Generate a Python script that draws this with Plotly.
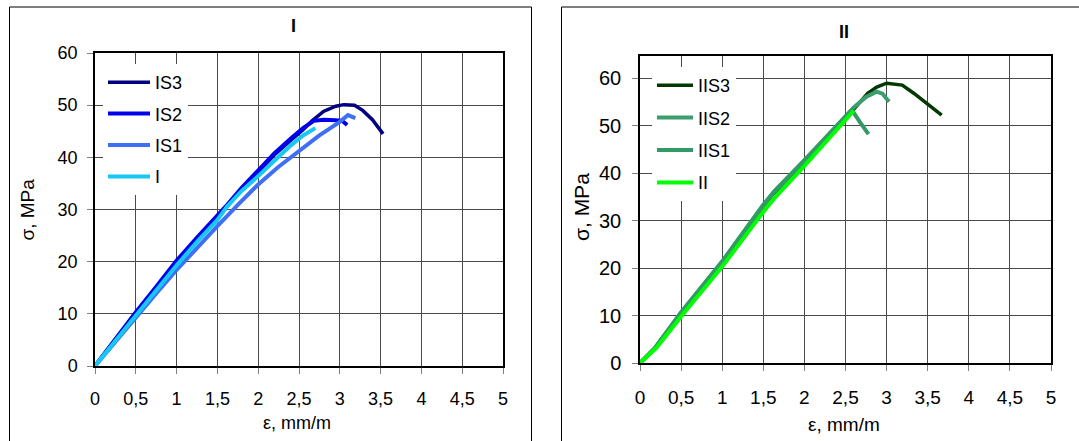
import plotly.graph_objects as go

# ---------------- data ----------------
x_ticks = [0, 0.5, 1, 1.5, 2, 2.5, 3, 3.5, 4, 4.5, 5]
x_ticktext = ["0", "0,5", "1", "1,5", "2", "2,5", "3", "3,5", "4", "4,5", "5"]
y_ticks = [0, 10, 20, 30, 40, 50, 60]
y_ticktext = ["0", "10", "20", "30", "40", "50", "60"]

# Panel I
IS3_eps = [0, 0.25, 0.5, 0.75, 1.0, 1.25, 1.5, 1.62, 1.8, 2.0, 2.2, 2.4, 2.55, 2.66, 2.8, 2.95, 3.05, 3.18, 3.28, 3.4, 3.53]
IS3_sig = [0, 5.2, 10.2, 15.0, 19.9, 24.4, 28.6, 30.6, 33.9, 37.2, 40.5, 43.3, 45.3, 47.0, 48.8, 49.8, 50.1, 50.0, 49.0, 47.2, 44.5]
IS2_eps = [0, 0.25, 0.5, 0.75, 1.0, 1.25, 1.5, 1.62, 1.8, 2.0, 2.2, 2.4, 2.55, 2.68, 2.8, 2.95, 3.03, 3.09]
IS2_sig = [0, 5.3, 10.3, 15.2, 20.2, 24.6, 28.8, 30.9, 34.2, 37.5, 40.8, 43.6, 45.6, 47.0, 47.2, 47.1, 47.0, 46.2]
IS1_eps = [0, 0.25, 0.5, 0.75, 1.0, 1.25, 1.5, 1.75, 2.0, 2.25, 2.5, 2.75, 3.0, 3.1, 3.19]
IS1_sig = [0, 4.7, 9.3, 13.9, 18.4, 22.7, 26.8, 30.9, 34.8, 38.2, 41.3, 44.2, 46.8, 48.1, 47.5]
I_eps = [0, 0.25, 0.5, 0.75, 1.0, 1.25, 1.5, 1.62, 1.8, 2.0, 2.2, 2.4, 2.55, 2.7]
I_sig = [0, 4.9, 9.8, 14.6, 19.3, 23.8, 28.0, 30.6, 33.6, 36.4, 39.4, 42.3, 44.2, 45.6]

# Panel II
IIS3_eps = [0, 0.18, 0.5, 1.0, 1.5, 1.63, 2.0, 2.5, 2.6, 2.77, 2.88, 3.0, 3.19, 3.33, 3.5, 3.67]
IIS3_sig = [0, 3.1, 10.6, 21.2, 33.0, 35.8, 42.4, 51.6, 53.4, 56.8, 58.1, 58.9, 58.5, 56.8, 54.6, 52.2]
IIS2_eps = [0, 0.18, 0.5, 1.0, 1.5, 1.63, 2.0, 2.5, 2.6, 2.75, 2.88, 2.95, 3.03]
IIS2_sig = [0, 3.1, 10.7, 21.4, 33.3, 36.1, 42.7, 52.0, 53.8, 56.0, 57.1, 56.7, 55.0]
IIS1_eps = [0, 0.18, 0.5, 1.0, 1.5, 1.63, 2.0, 2.5, 2.58, 2.68, 2.78]
IIS1_sig = [0, 3.1, 10.6, 21.3, 33.2, 36.0, 42.6, 51.9, 53.2, 50.6, 48.2]
II_eps = [0, 0.2, 0.5, 1.0, 1.5, 1.63, 2.0, 2.5, 2.6]
II_sig = [0, 3.2, 9.8, 20.3, 31.8, 34.6, 41.5, 51.2, 53.1]

left_series = [("IS3", IS3_eps, IS3_sig, "#000080", 3.5),
               ("IS2", IS2_eps, IS2_sig, "#0000EE", 4),
               ("IS1", IS1_eps, IS1_sig, "#3F6FF5", 4),
               ("I", I_eps, I_sig, "#17C8F2", 4)]
right_series = [("IIS3", IIS3_eps, IIS3_sig, "#033803", 3.5),
                ("IIS2", IIS2_eps, IIS2_sig, "#3C9E6C", 4),
                ("IIS1", IIS1_eps, IIS1_sig, "#339966", 4),
                ("II", II_eps, II_sig, "#00FF00", 4)]

# ---------------- figure ----------------
W, H = 1079, 441
FONT = "Arial, Liberation Sans, sans-serif"


def fx(p):
    return p / W


def fy(p):
    return 1 - p / H


fig = go.Figure()
for name, xs, ys, col, w in left_series:
    fig.add_trace(go.Scatter(x=xs, y=ys, name=name, mode="lines", line=dict(color=col, width=w),
                             xaxis="x", yaxis="y", legend="legend", legendgroup=name))
for name, xs, ys, col, w in right_series:
    fig.add_trace(go.Scatter(x=xs, y=ys, name=name, mode="lines", line=dict(color=col, width=w),
                             xaxis="x2", yaxis="y2", legend="legend2", legendgroup=name))

grid = "#4a4a4a"
common_x = dict(range=[0, 5], tickvals=x_ticks, ticktext=x_ticktext, showgrid=True, gridcolor=grid,
                gridwidth=1, zeroline=False, showline=True, linecolor="black", linewidth=1.5, mirror=True,
                ticks="outside", ticklen=6, tickcolor="#808080", tickwidth=1,
                color="black", automargin=False)
common_y = dict(tickvals=y_ticks, ticktext=y_ticktext, showgrid=True, gridcolor=grid, gridwidth=1,
                zeroline=False, showline=True, linecolor="black", linewidth=1.5, mirror=True,
                ticks="outside", ticklen=6, tickcolor="#808080", tickwidth=1, color="black",
                automargin=False)

fig.update_layout(
    template="none",
    width=W, height=H, margin=dict(l=0, r=0, t=0, b=0, pad=0, autoexpand=False),
    paper_bgcolor="white", plot_bgcolor="white",
    font=dict(family=FONT, color="black"),
    xaxis=dict(common_x, domain=[fx(95), fx(503)], anchor="y", tickfont=dict(size=18),
               ticklabelstandoff=10),
    yaxis=dict(common_y, domain=[fy(366), fy(53)], range=[0, 60], anchor="x", tickfont=dict(size=18),
               ticklabelstandoff=6),
    xaxis2=dict(common_x, domain=[fx(640), fx(1051)], anchor="y2", tickfont=dict(size=19),
                ticklabelstandoff=10),
    yaxis2=dict(common_y, domain=[fy(363), fy(56)], range=[0, 60 * 307 / 285], anchor="x2",
                tickfont=dict(size=20), ticklabelstandoff=7),
    legend=dict(x=fx(103), y=fy(64), xanchor="left", yanchor="top", bgcolor="white",
                font=dict(size=18), tracegroupgap=5, itemwidth=42, traceorder="grouped"),
    legend2=dict(x=fx(652), y=fy(67), xanchor="left", yanchor="top", bgcolor="white",
                 font=dict(size=18), tracegroupgap=6, itemwidth=36, traceorder="grouped"),
    showlegend=True,
)

ann = []
ann.append(dict(text="<b>I</b>", x=fx(293), y=fy(26), xref="paper", yref="paper", showarrow=False,
                font=dict(size=18), xanchor="center", yanchor="middle"))
ann.append(dict(text="<b>II</b>", x=fx(844), y=fy(32), xref="paper", yref="paper", showarrow=False,
                font=dict(size=18), xanchor="center", yanchor="middle"))
ann.append(dict(text="σ, MPa", x=fx(26.5), y=fy(210), xref="paper", yref="paper", showarrow=False,
                font=dict(size=19), textangle=-90, xanchor="center", yanchor="middle"))
ann.append(dict(text="ε, mm/m", x=fx(297), y=fy(423), xref="paper", yref="paper", showarrow=False,
                font=dict(size=18), xanchor="center", yanchor="middle"))
ann.append(dict(text="σ, MPa", x=fx(581), y=fy(207), xref="paper", yref="paper", showarrow=False,
                font=dict(size=21), textangle=-90, xanchor="center", yanchor="middle"))
ann.append(dict(text="ε, mm/m", x=fx(844), y=fy(424), xref="paper", yref="paper", showarrow=False,
                font=dict(size=19), xanchor="center", yanchor="middle"))
fig.update_layout(annotations=ann)

# panel frames
shapes = [
    dict(type="line", xref="paper", yref="paper", x0=fx(9.5), x1=fx(9.5), y0=fy(7), y1=fy(445),
         line=dict(color="black", width=1)),
    dict(type="line", xref="paper", yref="paper", x0=fx(9.5), x1=fx(531.5), y0=fy(7), y1=fy(7),
         line=dict(color="black", width=1)),
    dict(type="line", xref="paper", yref="paper", x0=fx(531.5), x1=fx(531.5), y0=fy(7), y1=fy(445),
         line=dict(color="black", width=1)),
    dict(type="line", xref="paper", yref="paper", x0=fx(561.5), x1=fx(561.5), y0=fy(7), y1=fy(445),
         line=dict(color="black", width=1)),
    dict(type="line", xref="paper", yref="paper", x0=fx(561.5), x1=fx(1085), y0=fy(7), y1=fy(7),
         line=dict(color="black", width=1)),
]
fig.update_layout(shapes=shapes)

fig.write_html("out.html", config={"displayModeBar": False},
               post_script="document.body.style.margin='0';document.body.style.overflow='hidden';")
